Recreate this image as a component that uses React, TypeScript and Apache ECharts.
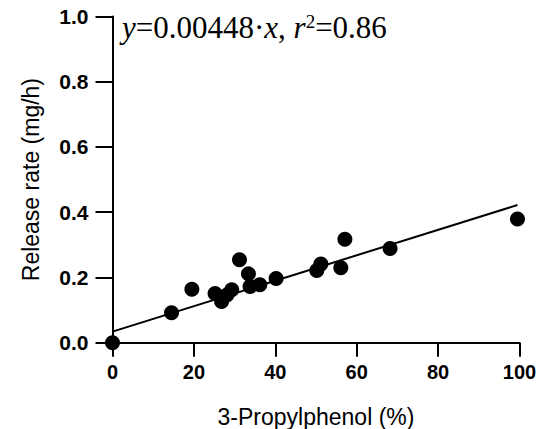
import React, { useEffect, useRef } from "react";
import * as echarts from "echarts";

const propylphenolPct = [0, 14.5, 19.5, 25.2, 26.8, 28.1, 29.3, 31.2, 33.4, 33.8, 36.2, 40.2, 50.2, 51.2, 56.1, 57.1, 68.2, 99.5];
const releaseRate = [0.0, 0.092, 0.164, 0.151, 0.126, 0.146, 0.162, 0.254, 0.211, 0.172, 0.178, 0.197, 0.221, 0.241, 0.230, 0.317, 0.289, 0.379];
const fitLineX = [0, 99.5];
const fitLineY = [0.034, 0.422];
const xTicks = [0, 20, 40, 60, 80, 100];
const yTicks = [0, 0.2, 0.4, 0.6, 0.8, 1.0];
const xAxisTitle = "3-Propylphenol (%)";
const yAxisTitle = "Release rate (mg/h)";

export default function App() {
  const ref = useRef<HTMLDivElement>(null);
  useEffect(() => {
    document.body.style.margin = "0";
    if (!ref.current) return;
    const chart = echarts.init(ref.current, null, { renderer: "svg" });
    const points = propylphenolPct.map((x, i) => [x, releaseRate[i]]);
    const fit = fitLineX.map((x, i) => [x, fitLineY[i]]);
    const axisCommon = {
      axisLine: { show: true, lineStyle: { color: "#000", width: 2 } },
      splitLine: { show: false },
      nameLocation: "middle" as const,
    };
    chart.setOption({
      animation: false,
      backgroundColor: "#fff",
      grid: {
        left: 112.5,
        right: 18.5,
        top: 16.5,
        bottom: 86.3,
        containLabel: false,
        outerBoundsMode: "none",
      },
      xAxis: {
        ...axisCommon,
        type: "value",
        min: xTicks[0],
        max: xTicks[xTicks.length - 1],
        interval: xTicks[1] - xTicks[0],
        axisTick: { show: true, length: 14, lineStyle: { color: "#000", width: 2 } },
        axisLabel: {
          margin: 19,
          fontFamily: "Liberation Sans",
          fontSize: 20,
          fontWeight: "bold",
          color: "#000",
        },
        name: xAxisTitle,
        nameGap: 63,
        nameTextStyle: { fontFamily: "Liberation Sans", fontSize: 23, color: "#000" },
      },
      yAxis: {
        ...axisCommon,
        type: "value",
        min: yTicks[0],
        max: yTicks[yTicks.length - 1],
        interval: 0.2,
        axisTick: { show: true, length: 17, lineStyle: { color: "#000", width: 2 } },
        axisLabel: {
          margin: 24,
          fontFamily: "Liberation Sans",
          fontSize: 21,
          fontWeight: "bold",
          color: "#000",
          formatter: (v: number) => v.toFixed(1),
        },
        name: yAxisTitle,
        nameGap: 70,
        nameTextStyle: { fontFamily: "Liberation Sans", fontSize: 23, color: "#000" },
      },
      graphic: [
        {
          type: "text",
          left: 122,
          top: 12,
          style: {
            text: "{i|y}=0.00448·{i|x}, {i|r}{sup|2}=0.86",
            fontFamily: "Liberation Serif",
            fontSize: 31,
            fill: "#000",
            rich: {
              i: { fontFamily: "Liberation Serif", fontStyle: "italic", fontSize: 31, fill: "#000" },
              sup: { fontFamily: "Liberation Serif", fontSize: 19, fill: "#000", verticalAlign: "top" },
            },
          },
        },
      ],
      series: [
        {
          type: "line",
          data: fit,
          showSymbol: false,
          symbol: "none",
          lineStyle: { color: "#000", width: 2 },
          z: 2,
        },
        {
          type: "scatter",
          data: points,
          symbol: "circle",
          symbolSize: 15,
          itemStyle: { color: "#000", opacity: 1 },
          z: 3,
        },
      ],
    });
    return () => chart.dispose();
  }, []);
  return <div ref={ref} style={{ width: 538, height: 429 }} />;
}
